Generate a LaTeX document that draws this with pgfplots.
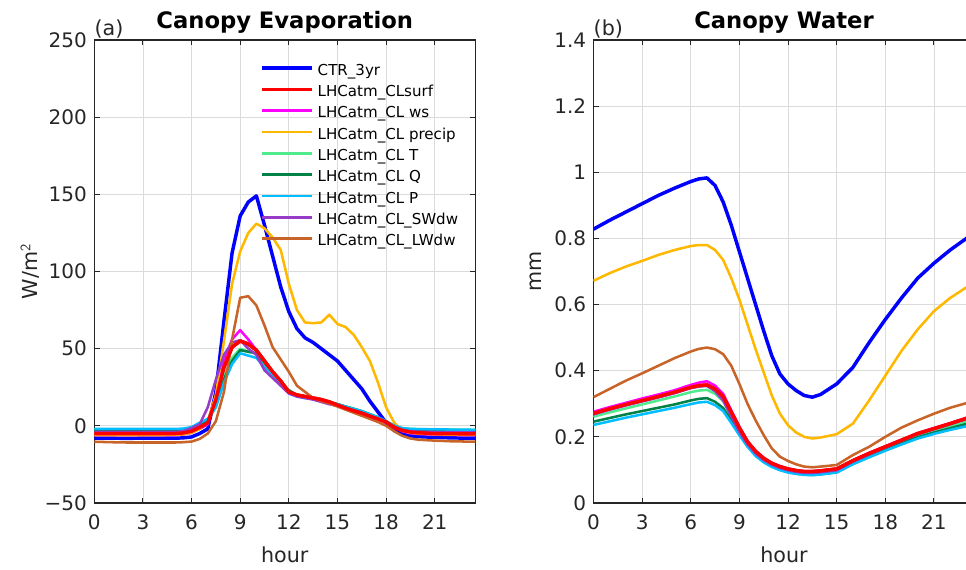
\documentclass[border=0pt]{standalone}
\usepackage{fontspec}
\setmainfont{DejaVu Sans}
\usepackage{pgfplots}
\usepackage{pgfplotstable}
\pgfplotsset{compat=1.18}

\definecolor{cblue}{rgb}{0,0,1}
\definecolor{cred}{rgb}{1,0,0}
\definecolor{cmag}{rgb}{1,0,1}
\definecolor{cyel}{rgb}{1,0.72,0}
\definecolor{clgreen}{RGB}{80,235,140}
\definecolor{cdgreen}{RGB}{0,130,70}
\definecolor{ccyan}{RGB}{0,190,255}
\definecolor{cpurp}{RGB}{150,60,200}
\definecolor{cbrown}{RGB}{200,100,40}
\definecolor{axisgray}{RGB}{38,38,38}

\pgfplotstableread{
h    ctr   surf  ws    prec  T     Q     P     SW    LW
0    -8    -5    -6    -6    -2.5  -3    -2    -4    -10.3
1    -8    -5    -6    -6    -2.5  -3    -2    -4    -10.6
2    -8.1  -5    -6    -6    -2.5  -3    -2    -4    -10.8
3    -8    -5    -6    -6    -2.5  -3    -2    -4    -10.8
4    -8    -5    -6    -6    -2.5  -3    -2    -4    -10.8
5    -8    -5    -6    -5.8  -2.5  -3    -2    -4    -10.8
5.5  -7.8  -4.6  -5.6  -5.5  -2.2  -2.7  -1.8  -3.4  -10.6
6    -7.2  -3.5  -4.5  -4.5  -1.2  -1.8  -0.8  -1.5  -10.2
6.5  -5    -1    -2    -2    1.5   1     2     1     -8.5
7    -2    2     1     3     4     3.5   4.5   12    -5
7.5  22    17    18    20    14    13    12    30    3
8    68    38    42    55    32    30    28    46    22
8.5  112   51    56    92    44    42    40    54    56
9    136   55    62    113   50    49    47    55.5  83
9.5  145   53    56    125   48    48    45.5  50    84
10   149   49    49    131   47    47    44    46    78
10.5 130   42    40    128   40    41    38    36    65
11   110   35    34    122   34    34    33    31    51
11.5 90    29    28    114   28    28    27    26    43
12   74    22    22    92    23    23    21    21    35
12.5 63    20    20    75    20    20    19    19    26
13   57    19    18.5  67    19    19    18    18    22
13.5 54    18    17.5  66.5  18    18    17.5  17    18
14   50    17    16    67    17    17    16.5  15.5  16
14.5 46    15.5  14.5  72    15.5  15.5  15    14    14.5
15   42    13.5  13    66    14    14    14    13    12.5
15.5 36    11.5  11.5  64    12.5  12.5  12.5  11.5  10.5
16   30    9.8   9.8   59    11    11    11    10    8.5
16.5 24    8.2   8.2   51    9.5   9.5   9.5   8.5   6.5
17   16    6.3   6.3   42    7.5   7.5   7.5   6.5   4.5
17.5 9     4.5   4.5   28    5.5   5.5   5.5   4.5   2.5
18   2     2.5   2.5   12    3     3     3     2.5   0
18.5 -3    -1    -1    2     0     0     0     -0.5  -3.5
19   -5.5  -3    -3.5  -3    -1.5  -2    -1.5  -2.5  -6.5
19.5 -6.5  -4    -4.8  -4.5  -2    -2.5  -2    -3.5  -8.2
20   -7    -4.5  -5.3  -5    -2.2  -2.7  -2.1  -3.8  -9
21   -7.5  -5    -5.7  -5.5  -2.4  -2.9  -2.3  -4    -9.6
22   -7.8  -5.1  -5.9  -5.7  -2.5  -3    -2.4  -4.1  -10
23   -8    -5.2  -6    -5.8  -2.6  -3.1  -2.5  -4.2  -10.2
23.5 -8    -5.2  -6    -5.8  -2.6  -3.1  -2.6  -4.2  -10.2
}\evap

\pgfplotstableread{
h    ctr    surf   ws     prec   T      Q      P      SW     LW
0    0.828  0.271  0.276  0.672  0.261  0.246  0.236  0.268  0.320
1    0.855  0.285  0.290  0.695  0.274  0.257  0.247  0.282  0.345
2    0.880  0.298  0.303  0.715  0.286  0.268  0.258  0.295  0.370
3    0.905  0.310  0.316  0.732  0.298  0.278  0.268  0.307  0.392
4    0.930  0.322  0.328  0.750  0.310  0.288  0.278  0.319  0.415
5    0.952  0.335  0.341  0.765  0.322  0.298  0.288  0.332  0.438
6    0.972  0.350  0.357  0.777  0.335  0.310  0.299  0.347  0.458
6.5  0.980  0.355  0.364  0.780  0.340  0.315  0.304  0.352  0.466
7    0.983  0.357  0.368  0.780  0.342  0.317  0.306  0.354  0.470
7.5  0.960  0.345  0.355  0.765  0.330  0.306  0.296  0.338  0.465
8    0.910  0.322  0.330  0.735  0.308  0.287  0.278  0.310  0.450
8.5  0.840  0.275  0.280  0.680  0.262  0.250  0.242  0.262  0.415
9    0.760  0.227  0.230  0.615  0.218  0.210  0.205  0.215  0.360
9.5  0.680  0.185  0.187  0.540  0.180  0.175  0.170  0.178  0.300
10   0.600  0.156  0.157  0.465  0.150  0.146  0.142  0.150  0.250
10.5 0.520  0.135  0.136  0.395  0.130  0.126  0.123  0.130  0.205
11   0.445  0.120  0.121  0.325  0.115  0.111  0.109  0.116  0.165
11.5 0.390  0.110  0.111  0.270  0.105  0.101  0.099  0.106  0.140
12   0.360  0.103  0.104  0.235  0.098  0.094  0.092  0.099  0.127
12.5 0.340  0.098  0.099  0.213  0.093  0.089  0.088  0.094  0.117
13   0.325  0.095  0.096  0.200  0.090  0.086  0.085  0.091  0.110
13.5 0.320  0.095  0.096  0.195  0.089  0.085  0.084  0.091  0.108
14   0.328  0.097  0.098  0.198  0.091  0.087  0.086  0.093  0.110
15   0.360  0.103  0.104  0.208  0.097  0.093  0.092  0.099  0.115
16   0.410  0.128  0.129  0.240  0.123  0.119  0.117  0.125  0.145
17   0.485  0.150  0.151  0.310  0.145  0.141  0.138  0.147  0.170
18   0.555  0.170  0.171  0.385  0.166  0.162  0.158  0.168  0.200
19   0.620  0.190  0.191  0.460  0.186  0.181  0.177  0.188  0.228
20   0.680  0.210  0.211  0.525  0.205  0.199  0.195  0.208  0.250
21   0.725  0.225  0.226  0.580  0.220  0.213  0.209  0.223  0.270
22   0.765  0.240  0.241  0.620  0.233  0.226  0.221  0.238  0.288
23   0.800  0.256  0.257  0.652  0.246  0.239  0.232  0.254  0.302
23.5 0.815  0.263  0.264  0.665  0.252  0.245  0.237  0.260  0.310
}\water

\pgfplotsset{
  mystyle/.style={
    scale only axis,
    width=285.75pt, height=347.25pt,
    anchor=south west,
    xmin=0, xmax=23.5,
    xtick={0,3,6,9,12,15,18,21},
    grid=major,
    grid style={color=black!14, line width=0.6pt},
    axis line style={color=axisgray, line width=0.8pt},
    tick style={color=axisgray, line width=0.7pt},
    tick align=inside,
    major tick length=4pt,
    /pgf/number format/assume math mode=true,
    tick label style={font=\fontsize{15}{18}\selectfont, color=axisgray},
    yticklabel style={xshift=-2pt},
    xticklabel style={yshift=-5.5pt},
    label style={font=\fontsize{15.5}{18}\selectfont, color=axisgray},
    xlabel style={at={(rel axis cs:0.5,0)}, anchor=base, yshift=-44.5pt},
    ylabel style={at={(rel axis cs:0,0.5)}, anchor=base},
    every axis plot/.append style={line width=1.9pt, line join=round},
  },
  thick line/.style={line width=2.6pt},
}

\begin{document}
\begin{tikzpicture}
\begin{axis}[mystyle, name=left,
  at={(70.7pt,50.25pt)},
  ymin=-50, ymax=250,
  ytick={-50,0,50,100,150,200,250},
  yticklabels={−50,0,50,100,150,200,250},
  xlabel={hour},
  ylabel={W/m$^{\mathsf{2}}$},
  ylabel style={yshift=42.75pt},
  legend cell align=left,
  legend style={draw=none, fill=none, at={(rel axis cs:0.4357,0.9525)},
    anchor=north west, inner sep=0pt, outer sep=0pt, column sep=3pt,
    font=\fontsize{11.3}{13}\selectfont,
    nodes={inner sep=0pt, text height=10pt, text depth=6pt}},
  legend image code/.code={\draw[#1] (0pt,3.5pt) -- (37.5pt,3.5pt);},
]
\addplot[cblue, thick line] table[x=h, y=ctr] {\evap};
\addlegendentry{CTR\_3yr}
\addplot[cred, thick line] table[x=h, y=surf] {\evap};
\addlegendentry{LHCatm\_CLsurf}
\addplot[cmag] table[x=h, y=ws] {\evap};
\addlegendentry{LHCatm\_CL ws}
\addplot[cyel] table[x=h, y=prec] {\evap};
\addlegendentry{LHCatm\_CL precip}
\addplot[clgreen] table[x=h, y=T] {\evap};
\addlegendentry{LHCatm\_CL T}
\addplot[cdgreen] table[x=h, y=Q] {\evap};
\addlegendentry{LHCatm\_CL Q}
\addplot[ccyan] table[x=h, y=P] {\evap};
\addlegendentry{LHCatm\_CL P}
\addplot[cpurp] table[x=h, y=SW] {\evap};
\addlegendentry{LHCatm\_CL\_SWdw}
\addplot[cbrown] table[x=h, y=LW] {\evap};
\addlegendentry{LHCatm\_CL\_LWdw}
\addplot[cred, thick line, forget plot] table[x=h, y=surf] {\evap};
\end{axis}

\begin{axis}[mystyle, name=right,
  at={(445.1pt,50.25pt)},
  ymin=0, ymax=1.4,
  ytick={0,0.2,0.4,0.6,0.8,1,1.2,1.4},
  yticklabels={0,0.2,0.4,0.6,0.8,1,1.2,1.4},
  xlabel={hour},
  ylabel={mm},
  ylabel style={yshift=39pt},
]
\addplot[cblue, thick line] table[x=h, y=ctr] {\water};
\addplot[cred, thick line] table[x=h, y=surf] {\water};
\addplot[cmag] table[x=h, y=ws] {\water};
\addplot[cyel] table[x=h, y=prec] {\water};
\addplot[clgreen] table[x=h, y=T] {\water};
\addplot[cdgreen] table[x=h, y=Q] {\water};
\addplot[ccyan] table[x=h, y=P] {\water};
\addplot[cpurp] table[x=h, y=SW] {\water};
\addplot[cbrown] table[x=h, y=LW] {\water};
\addplot[cred, thick line] table[x=h, y=surf] {\water};
\end{axis}

\node[anchor=base, font=\bfseries\fontsize{17}{20}\selectfont, color=black, inner sep=0pt]
  at ([yshift=8.8pt]left.north) {Canopy Evaporation};
\node[anchor=base, font=\bfseries\fontsize{17}{20}\selectfont, color=black, inner sep=0pt]
  at ([yshift=8.8pt]right.north) {Canopy Water};
\node[anchor=base west, font=\fontsize{15.5}{18}\selectfont, color=axisgray, inner sep=0pt]
  at ([yshift=3.3pt]left.north west) {(a)};
\node[anchor=base west, font=\fontsize{15.5}{18}\selectfont, color=axisgray, inner sep=0pt]
  at ([yshift=3.3pt]right.north west) {(b)};

\pgfresetboundingbox
\useasboundingbox (0,0) rectangle (724.5pt,427.5pt);
\end{tikzpicture}
\end{document}
